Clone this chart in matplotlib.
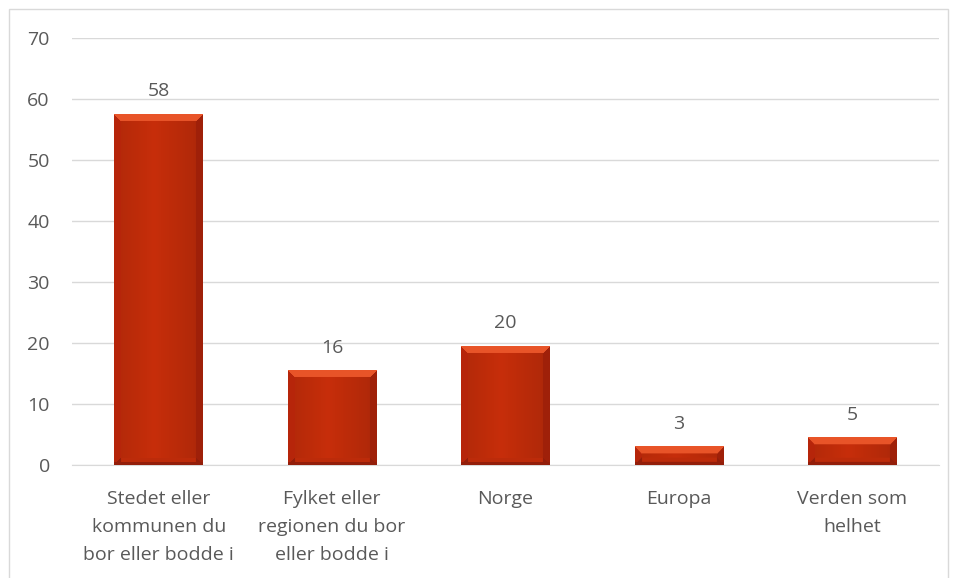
import numpy as np
import matplotlib.pyplot as plt
from matplotlib.patches import Rectangle

plt.rcParams['font.family'] = ['Open Sans', 'DejaVu Sans']

categories = ["Stedet eller\nkommunen du\nbor eller bodde i",
              "Fylket eller\nregionen du bor\neller bodde i",
              "Norge", "Europa", "Verden som\nhelhet"]
values = [57.5, 15.5, 19.5, 3.0, 4.5]
value_labels = ["58", "16", "20", "3", "5"]

text_col = "#595959"
grid_col = "#D9D9D9"

fig = plt.figure(figsize=(9.56, 5.78), dpi=100)
fig.patches.append(Rectangle((9 / 956, -0.1), 939 / 956, 1.1 - 9 / 578,
                             transform=fig.transFigure, fill=False,
                             edgecolor="#D9D9D9", linewidth=1))
ax = fig.add_axes([0.0753, 0.1955, 0.907, 0.7388])

x = np.arange(len(categories))
width = 0.51
ax.set_xlim(-0.5, len(categories) - 0.5)
ax.set_ylim(0, 70)


def bevel_image(wpx, hpx, b=7):
    base = np.array([0.78, 0.18, 0.04])
    top = np.array([0.91, 0.33, 0.16])
    side = np.array([0.68, 0.14, 0.04])
    bottom = np.array([0.58, 0.12, 0.04])
    img = np.zeros((hpx, wpx, 3))
    for i in range(hpx):
        for j in range(wpx):
            dt, db, dl, dr = i, hpx - 1 - i, j, wpx - 1 - j
            m = min(dt, db, dl, dr)
            if m >= b:
                t = j / max(wpx - 1, 1)
                shade = 1.0 - 0.12 * abs(t - 0.45) * 2
                c = base * shade
            elif m == dt:
                c = top
            elif m == db:
                c = bottom
            elif m == dl:
                c = side * 1.05
            else:
                c = side * 0.92
            img[i, j] = np.clip(c, 0, 1)
    return img


bars = ax.bar(x, values, width=width, color="#C42B0C", zorder=2)
fig.canvas.draw()
for bar in bars:
    x0, y0 = bar.get_x(), bar.get_y()
    w, h = bar.get_width(), bar.get_height()
    p0 = ax.transData.transform((x0, y0))
    p1 = ax.transData.transform((x0 + w, y0 + h))
    wpx = max(int(round(p1[0] - p0[0])), 2)
    hpx = max(int(round(p1[1] - p0[1])), 2)
    b = min(7, hpx // 2 - 1, wpx // 2 - 1)
    img = bevel_image(wpx, hpx, max(b, 1))
    # thin darker bottom so it does not dominate
    if hpx > 12:
        img[-3:, :, :] = np.array([0.58, 0.12, 0.04])
        img[-7:-3, 7:-7, :] = np.array([0.74, 0.17, 0.04])
    ax.imshow(img, extent=(x0, x0 + w, y0, y0 + h), aspect='auto',
              zorder=3, interpolation='bilinear')
    bar.set_visible(False)

for xi, v, lab in zip(x, values, value_labels):
    ax.annotate(lab, (xi, v), xytext=(0, 10), textcoords="offset points",
                ha="center", va="bottom", fontsize=14, color=text_col)

ax.set_xlim(-0.5, len(categories) - 0.5)
ax.set_ylim(0, 70)
ax.set_yticks(np.arange(0, 71, 10))
ax.yaxis.grid(True, color=grid_col, linewidth=1)
ax.set_axisbelow(True)
ax.set_xticks(x)
ax.set_xticklabels(categories, fontsize=14, color=text_col, linespacing=1.72)
ax.tick_params(axis='y', labelsize=14, labelcolor=text_col, length=0, pad=16)
ax.tick_params(axis='x', length=0, pad=18)
for s in ["top", "right", "left"]:
    ax.spines[s].set_visible(False)
ax.spines["bottom"].set_color(grid_col)

fig.savefig("out.png", dpi=100)
